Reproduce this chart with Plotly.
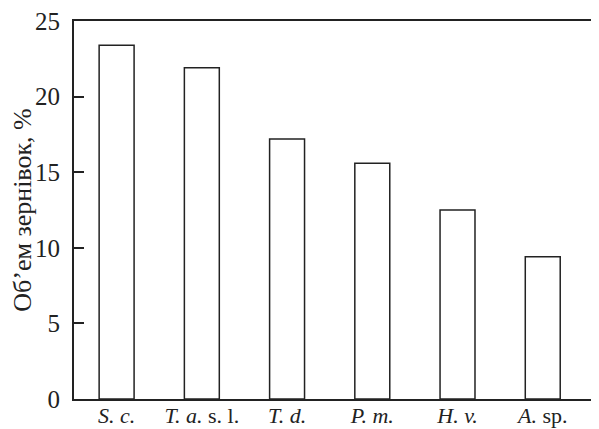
import plotly.graph_objects as go

categories = ["<i>S. c.</i>", "<i>T. a.</i> s. l.", "<i>T. d.</i>", "<i>P. m.</i>", "<i>H. v.</i>", "<i>A.</i> sp."]
values = [23.4, 21.9, 17.2, 15.6, 12.5, 9.4]
y_ticks = [0, 5, 10, 15, 20, 25]
y_title = "Об’ем зернівок, %"

font_family = "Liberation Serif, Times New Roman, serif"

fig = go.Figure()
fig.add_bar(
    x=categories,
    y=values,
    width=0.41,
    marker=dict(color="white", line=dict(color="#222222", width=1.5)),
)

fig.update_layout(
    width=591,
    height=421,
    margin=dict(l=65, r=0, t=11, b=30),
    paper_bgcolor="white",
    plot_bgcolor="white",
    showlegend=False,
    font=dict(family=font_family, size=22, color="#222222"),
)

fig.update_xaxes(
    type="category",
    range=[-0.5, 5.66],
    showline=True,
    linecolor="#222222",
    linewidth=2,
    mirror=True,
    ticks="",
    showgrid=False,
    zeroline=False,
    ticklabelstandoff=-4,
    ticklabeloverflow="allow",
    tickfont=dict(family=font_family, size=22, color="#222222"),
)

fig.update_yaxes(
    range=[0, 25],
    tickvals=y_ticks,
    ticks="inside",
    ticklen=10,
    tickwidth=2,
    tickcolor="#222222",
    showline=True,
    linecolor="#222222",
    linewidth=2,
    showgrid=False,
    zeroline=False,
    ticklabelstandoff=7,
    ticklabeloverflow="allow",
    tickfont=dict(family=font_family, size=25, color="#222222"),
    title=dict(text=y_title, font=dict(family=font_family, size=26, color="#222222"), standoff=9),
)

fig.write_html("out.html")
